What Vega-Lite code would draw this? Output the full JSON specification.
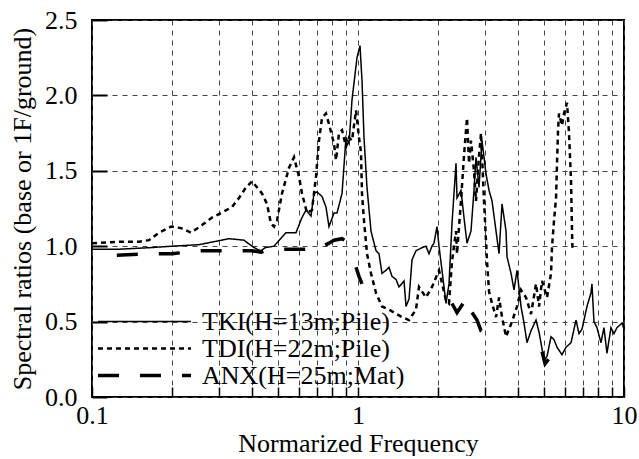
{
  "$schema": "https://vega.github.io/schema/vega-lite/v6.json",
  "width": 532,
  "height": 377,
  "padding": {"top": 7, "left": 9, "right": 14, "bottom": 0},
  "autosize": {"type": "pad"},
  "background": "white",
  "config": {
    "font": "Liberation Serif",
    "view": {"stroke": "black", "strokeWidth": 2},
    "axis": {
      "labelFont": "Liberation Serif",
      "titleFont": "Liberation Serif",
      "labelColor": "black",
      "titleColor": "black",
      "labelFontSize": 26,
      "titleFontSize": 26,
      "titleFontWeight": "normal",
      "domain": false,
      "tickColor": "black",
      "gridColor": "#444",
      "gridDash": [5, 5],
      "gridWidth": 1
    },
    "legend": {
      "labelFont": "Liberation Serif",
      "labelFontSize": 26,
      "labelColor": "black",
      "labelLimit": 400
    }
  },
  "datasets": {
    "curves": [
      {"s":"TKI","seg":"t","f":0.1,"v":0.98},{"s":"TKI","seg":"t","f":0.1263,"v":0.98},{"s":"TKI","seg":"t","f":0.1638,"v":0.99},{"s":"TKI","seg":"t","f":0.2,"v":1.0},{"s":"TKI","seg":"t","f":0.2525,"v":1.01},{"s":"TKI","seg":"t","f":0.2875,"v":1.03},{"s":"TKI","seg":"t","f":0.3273,"v":1.05},{"s":"TKI","seg":"t","f":0.3728,"v":1.04},{"s":"TKI","seg":"t","f":0.3996,"v":1.0},{"s":"TKI","seg":"t","f":0.4173,"v":0.98},{"s":"TKI","seg":"t","f":0.4319,"v":0.97},{"s":"TKI","seg":"t","f":0.4471,"v":0.99},{"s":"TKI","seg":"t","f":0.4833,"v":1.0},{"s":"TKI","seg":"t","f":0.5362,"v":1.09},{"s":"TKI","seg":"t","f":0.5847,"v":1.09},{"s":"TKI","seg":"t","f":0.6158,"v":1.19},{"s":"TKI","seg":"t","f":0.6376,"v":1.24},{"s":"TKI","seg":"t","f":0.6659,"v":1.2},{"s":"TKI","seg":"t","f":0.6832,"v":1.35},{"s":"TKI","seg":"t","f":0.7012,"v":1.36},{"s":"TKI","seg":"t","f":0.7322,"v":1.33},{"s":"TKI","seg":"t","f":0.7579,"v":1.26},{"s":"TKI","seg":"t","f":0.778,"v":1.13},{"s":"TKI","seg":"t","f":0.8124,"v":1.22},{"s":"TKI","seg":"t","f":0.8338,"v":1.22},{"s":"TKI","seg":"t","f":0.8709,"v":1.35},{"s":"TKI","seg":"t","f":0.9014,"v":1.72},{"s":"TKI","seg":"t","f":0.9252,"v":1.68},{"s":"TKI","seg":"t","f":0.9494,"v":1.97},{"s":"TKI","seg":"t","f":0.9913,"v":2.25},{"s":"TKI","seg":"t","f":1.0174,"v":2.33},{"s":"TKI","seg":"t","f":1.0352,"v":2.1},{"s":"TKI","seg":"t","f":1.0534,"v":1.72},{"s":"TKI","seg":"t","f":1.081,"v":1.39},{"s":"TKI","seg":"t","f":1.1191,"v":1.1},{"s":"TKI","seg":"t","f":1.1686,"v":0.97},{"s":"TKI","seg":"t","f":1.1993,"v":0.95},{"s":"TKI","seg":"t","f":1.2308,"v":0.82},{"s":"TKI","seg":"t","f":1.2743,"v":0.84},{"s":"TKI","seg":"t","f":1.3078,"v":0.86},{"s":"TKI","seg":"t","f":1.3422,"v":0.8},{"s":"TKI","seg":"t","f":1.3896,"v":0.78},{"s":"TKI","seg":"t","f":1.4261,"v":0.73},{"s":"TKI","seg":"t","f":1.4892,"v":0.77},{"s":"TKI","seg":"t","f":1.5155,"v":0.6},{"s":"TKI","seg":"t","f":1.5553,"v":0.65},{"s":"TKI","seg":"t","f":1.5963,"v":0.91},{"s":"TKI","seg":"t","f":1.652,"v":0.97},{"s":"TKI","seg":"t","f":1.7399,"v":0.99},{"s":"TKI","seg":"t","f":1.8011,"v":1.0},{"s":"TKI","seg":"t","f":1.8486,"v":0.95},{"s":"TKI","seg":"t","f":1.8973,"v":1.0},{"s":"TKI","seg":"t","f":1.9304,"v":1.02},{"s":"TKI","seg":"t","f":1.9815,"v":1.13},{"s":"TKI","seg":"t","f":2.0161,"v":1.0},{"s":"TKI","seg":"t","f":2.0693,"v":0.84},{"s":"TKI","seg":"t","f":2.142,"v":0.62},{"s":"TKI","seg":"t","f":2.1984,"v":0.75},{"s":"TKI","seg":"t","f":2.2563,"v":1.15},{"s":"TKI","seg":"t","f":2.3358,"v":1.55},{"s":"TKI","seg":"t","f":2.3561,"v":1.32},{"s":"TKI","seg":"t","f":2.4389,"v":1.37},{"s":"TKI","seg":"t","f":2.503,"v":1.19},{"s":"TKI","seg":"t","f":2.569,"v":1.02},{"s":"TKI","seg":"t","f":2.6593,"v":1.1},{"s":"TKI","seg":"t","f":2.7294,"v":1.37},{"s":"TKI","seg":"t","f":2.777,"v":1.59},{"s":"TKI","seg":"t","f":2.8503,"v":1.39},{"s":"TKI","seg":"t","f":2.9254,"v":1.7},{"s":"TKI","seg":"t","f":3.0286,"v":1.48},{"s":"TKI","seg":"t","f":3.1087,"v":1.37},{"s":"TKI","seg":"t","f":3.1907,"v":1.3},{"s":"TKI","seg":"t","f":3.3031,"v":1.1},{"s":"TKI","seg":"t","f":3.3901,"v":0.95},{"s":"TKI","seg":"t","f":3.4794,"v":1.28},{"s":"TKI","seg":"t","f":3.6017,"v":1.1},{"s":"TKI","seg":"t","f":3.633,"v":0.93},{"s":"TKI","seg":"t","f":3.7605,"v":0.82},{"s":"TKI","seg":"t","f":3.8595,"v":0.71},{"s":"TKI","seg":"t","f":3.9608,"v":0.84},{"s":"TKI","seg":"t","f":4.1007,"v":0.6},{"s":"TKI","seg":"t","f":4.2086,"v":0.49},{"s":"TKI","seg":"t","f":4.319,"v":0.36},{"s":"TKI","seg":"t","f":4.4716,"v":0.44},{"s":"TKI","seg":"t","f":4.6692,"v":0.51},{"s":"TKI","seg":"t","f":4.7925,"v":0.43},{"s":"TKI","seg":"t","f":4.9183,"v":0.32},{"s":"TKI","seg":"t","f":5.0042,"v":0.24},{"s":"TKI","seg":"t","f":5.1356,"v":0.27},{"s":"TKI","seg":"t","f":5.3169,"v":0.4},{"s":"TKI","seg":"t","f":5.4565,"v":0.38},{"s":"TKI","seg":"t","f":5.5998,"v":0.33},{"s":"TKI","seg":"t","f":5.8472,"v":0.28},{"s":"TKI","seg":"t","f":6.0533,"v":0.33},{"s":"TKI","seg":"t","f":6.321,"v":0.36},{"s":"TKI","seg":"t","f":6.6,"v":0.51},{"s":"TKI","seg":"t","f":6.7741,"v":0.42},{"s":"TKI","seg":"t","f":6.9525,"v":0.45},{"s":"TKI","seg":"t","f":7.2577,"v":0.6},{"s":"TKI","seg":"t","f":7.5128,"v":0.69},{"s":"TKI","seg":"t","f":7.5779,"v":0.75},{"s":"TKI","seg":"t","f":7.7103,"v":0.5},{"s":"TKI","seg":"t","f":7.9137,"v":0.46},{"s":"TKI","seg":"t","f":8.192,"v":0.36},{"s":"TKI","seg":"t","f":8.4078,"v":0.46},{"s":"TKI","seg":"t","f":8.6298,"v":0.29},{"s":"TKI","seg":"t","f":8.9331,"v":0.46},{"s":"TKI","seg":"t","f":9.1686,"v":0.42},{"s":"TKI","seg":"t","f":9.4102,"v":0.46},{"s":"TKI","seg":"t","f":9.8291,"v":0.49},{"s":"TKI","seg":"t","f":10,"v":0.45},

      {"s":"TDI","seg":"d","f":0.1,"v":1.02},{"s":"TDI","seg":"d","f":0.1263,"v":1.03},{"s":"TDI","seg":"d","f":0.1502,"v":1.03},{"s":"TDI","seg":"d","f":0.1638,"v":1.04},{"s":"TDI","seg":"d","f":0.1786,"v":1.09},{"s":"TDI","seg":"d","f":0.1982,"v":1.13},{"s":"TDI","seg":"d","f":0.2161,"v":1.12},{"s":"TDI","seg":"d","f":0.2356,"v":1.09},{"s":"TDI","seg":"d","f":0.2592,"v":1.14},{"s":"TDI","seg":"d","f":0.2826,"v":1.19},{"s":"TDI","seg":"d","f":0.3055,"v":1.22},{"s":"TDI","seg":"d","f":0.336,"v":1.26},{"s":"TDI","seg":"d","f":0.357,"v":1.32},{"s":"TDI","seg":"d","f":0.3793,"v":1.39},{"s":"TDI","seg":"d","f":0.3996,"v":1.43},{"s":"TDI","seg":"d","f":0.4356,"v":1.35},{"s":"TDI","seg":"d","f":0.4549,"v":1.28},{"s":"TDI","seg":"d","f":0.4709,"v":1.15},{"s":"TDI","seg":"d","f":0.4833,"v":1.13},{"s":"TDI","seg":"d","f":0.496,"v":1.17},{"s":"TDI","seg":"d","f":0.518,"v":1.35},{"s":"TDI","seg":"d","f":0.5504,"v":1.52},{"s":"TDI","seg":"d","f":0.5747,"v":1.59},{"s":"TDI","seg":"d","f":0.6002,"v":1.46},{"s":"TDI","seg":"d","f":0.6158,"v":1.35},{"s":"TDI","seg":"d","f":0.6431,"v":1.22},{"s":"TDI","seg":"d","f":0.6715,"v":1.24},{"s":"TDI","seg":"d","f":0.6951,"v":1.46},{"s":"TDI","seg":"d","f":0.7134,"v":1.7},{"s":"TDI","seg":"d","f":0.7322,"v":1.85},{"s":"TDI","seg":"d","f":0.7579,"v":1.88},{"s":"TDI","seg":"d","f":0.778,"v":1.81},{"s":"TDI","seg":"d","f":0.8124,"v":1.68},{"s":"TDI","seg":"d","f":0.8267,"v":1.57},{"s":"TDI","seg":"d","f":0.8483,"v":1.75},{"s":"TDI","seg":"d","f":0.8709,"v":1.77},{"s":"TDI","seg":"d","f":0.9014,"v":1.66},{"s":"TDI","seg":"d","f":0.9252,"v":1.72},{"s":"TDI","seg":"d","f":0.9494,"v":1.7},{"s":"TDI","seg":"d","f":0.9829,"v":1.9},{"s":"TDI","seg":"d","f":1.0087,"v":1.72},{"s":"TDI","seg":"d","f":1.0263,"v":1.62},{"s":"TDI","seg":"d","f":1.0352,"v":1.35},{"s":"TDI","seg":"d","f":1.0534,"v":1.17},{"s":"TDI","seg":"d","f":1.081,"v":0.95},{"s":"TDI","seg":"d","f":1.1191,"v":0.82},{"s":"TDI","seg":"d","f":1.1686,"v":0.69},{"s":"TDI","seg":"d","f":1.2308,"v":0.6},{"s":"TDI","seg":"d","f":1.3078,"v":0.58},{"s":"TDI","seg":"d","f":1.4636,"v":0.53},{"s":"TDI","seg":"d","f":1.5553,"v":0.51},{"s":"TDI","seg":"d","f":1.652,"v":0.58},{"s":"TDI","seg":"d","f":1.6955,"v":0.73},{"s":"TDI","seg":"d","f":1.8011,"v":0.66},{"s":"TDI","seg":"d","f":1.8973,"v":0.73},{"s":"TDI","seg":"d","f":2.0161,"v":0.84},{"s":"TDI","seg":"d","f":2.142,"v":0.64},{"s":"TDI","seg":"d","f":2.1984,"v":0.62},{"s":"TDI","seg":"d","f":2.2563,"v":0.9},{"s":"TDI","seg":"d","f":2.3358,"v":1.1},{"s":"TDI","seg":"d","f":2.3561,"v":0.95},{"s":"TDI","seg":"d","f":2.4389,"v":1.3},{"s":"TDI","seg":"d","f":2.503,"v":1.6},{"s":"TDI","seg":"d","f":2.569,"v":1.85},{"s":"TDI","seg":"d","f":2.6146,"v":1.55},{"s":"TDI","seg":"d","f":2.6593,"v":1.7},{"s":"TDI","seg":"d","f":2.7294,"v":1.5},{"s":"TDI","seg":"d","f":2.777,"v":1.3},{"s":"TDI","seg":"d","f":2.8503,"v":1.6},{"s":"TDI","seg":"d","f":2.9002,"v":1.75},{"s":"TDI","seg":"d","f":2.977,"v":1.3},{"s":"TDI","seg":"d","f":3.0549,"v":0.9},{"s":"TDI","seg":"d","f":3.1087,"v":0.7},{"s":"TDI","seg":"d","f":3.1907,"v":0.62},{"s":"TDI","seg":"d","f":3.3031,"v":0.53},{"s":"TDI","seg":"d","f":3.3901,"v":0.66},{"s":"TDI","seg":"d","f":3.4794,"v":0.53},{"s":"TDI","seg":"d","f":3.6017,"v":0.4},{"s":"TDI","seg":"d","f":3.7927,"v":0.5},{"s":"TDI","seg":"d","f":3.9608,"v":0.6},{"s":"TDI","seg":"d","f":4.1007,"v":0.71},{"s":"TDI","seg":"d","f":4.2819,"v":0.66},{"s":"TDI","seg":"d","f":4.4716,"v":0.55},{"s":"TDI","seg":"d","f":4.6692,"v":0.75},{"s":"TDI","seg":"d","f":4.7925,"v":0.6},{"s":"TDI","seg":"d","f":4.9183,"v":0.77},{"s":"TDI","seg":"d","f":5.1356,"v":0.66},{"s":"TDI","seg":"d","f":5.3169,"v":0.82},{"s":"TDI","seg":"d","f":5.362,"v":0.99},{"s":"TDI","seg":"d","f":5.4565,"v":1.17},{"s":"TDI","seg":"d","f":5.5522,"v":1.32},{"s":"TDI","seg":"d","f":5.5998,"v":1.55},{"s":"TDI","seg":"d","f":5.65,"v":1.77},{"s":"TDI","seg":"d","f":5.6976,"v":1.88},{"s":"TDI","seg":"d","f":5.8472,"v":1.8},{"s":"TDI","seg":"d","f":5.9493,"v":1.88},{"s":"TDI","seg":"d","f":6.1059,"v":1.95},{"s":"TDI","seg":"d","f":6.2125,"v":1.75},{"s":"TDI","seg":"d","f":6.321,"v":1.44},{"s":"TDI","seg":"d","f":6.3759,"v":1.1},{"s":"TDI","seg":"d","f":6.4,"v":0.99},

      {"s":"ANX","seg":"a1","f":0.124,"v":0.94},{"s":"ANX","seg":"a1","f":0.1638,"v":0.95},{"s":"ANX","seg":"a1","f":0.2,"v":0.95},{"s":"ANX","seg":"a1","f":0.2525,"v":0.97},{"s":"ANX","seg":"a1","f":0.3273,"v":0.97},{"s":"ANX","seg":"a1","f":0.3996,"v":0.97},{"s":"ANX","seg":"a1","f":0.4319,"v":0.96},{"s":"ANX","seg":"a1","f":0.4471,"v":0.97},{"s":"ANX","seg":"a1","f":0.5362,"v":0.98},{"s":"ANX","seg":"a1","f":0.6158,"v":0.98},{"s":"ANX","seg":"a1","f":0.7012,"v":0.98},{"s":"ANX","seg":"a1","f":0.778,"v":1.02},{"s":"ANX","seg":"a1","f":0.8124,"v":1.04},{"s":"ANX","seg":"a1","f":0.8709,"v":1.05},{"s":"ANX","seg":"a1","f":0.9252,"v":1.02},
      {"s":"ANX","seg":"a2","f":0.9829,"v":0.86},{"s":"ANX","seg":"a2","f":1.0087,"v":0.8},{"s":"ANX","seg":"a2","f":1.0352,"v":0.75},
      {"s":"ANX","seg":"a3","f":2.2563,"v":0.62},{"s":"ANX","seg":"a3","f":2.3561,"v":0.56},{"s":"ANX","seg":"a3","f":2.503,"v":0.63},
      {"s":"ANX","seg":"a4","f":2.6834,"v":0.56},{"s":"ANX","seg":"a4","f":2.8015,"v":0.51},{"s":"ANX","seg":"a4","f":2.9002,"v":0.44},{"s":"ANX","seg":"a4","f":2.977,"v":0.43},
      {"s":"ANX","seg":"a5","f":4.92,"v":0.3},{"s":"ANX","seg":"a5","f":5.05,"v":0.22},{"s":"ANX","seg":"a5","f":5.2,"v":0.25}
    ]
  },
  "data": {"name": "curves"},
  "mark": {"type": "line", "color": "black", "strokeCap": "butt", "clip": true},
  "encoding": {
    "x": {
      "field": "f",
      "type": "quantitative",
      "scale": {"type": "log", "domain": [0.1, 10]},
      "axis": {
        "title": "Normarized Frequency",
        "values": [0.1,0.2,0.3,0.4,0.5,0.6,0.7,0.8,0.9,1,2,3,4,5,6,7,8,9,10],
        "format": "~g",
        "labelExpr": "datum.value == 0.1 || datum.value == 1 || datum.value == 10 ? datum.label : ''",
        "tickSize": -10,
        "tickWidth": 1.5,
        "labelPadding": 15,
        "titlePadding": 2,
        "labelFlush": false
      }
    },
    "y": {
      "field": "v",
      "type": "quantitative",
      "scale": {"domain": [0, 2.5], "nice": false},
      "axis": {
        "title": "Spectral ratios (base or 1F/ground)",
        "values": [0, 0.5, 1, 1.5, 2, 2.5],
        "format": ".1f",
        "tickSize": -15,
        "tickWidth": 2,
        "labelPadding": 30,
        "titlePadding": 9
      }
    },
    "detail": {"field": "seg"},
    "strokeDash": {
      "field": "s",
      "type": "nominal",
      "scale": {"domain": ["TKI", "TDI", "ANX"], "range": [[1, 0], [5, 4], [21, 21]]},
      "legend": {
        "title": null,
        "orient": "none",
        "legendX": 4,
        "legendY": 288,
        "symbolType": "stroke",
        "symbolSize": 8649,
        "symbolStrokeWidth": 2.5,
        "symbolStrokeColor": "black",
        "clipHeight": 27,
        "rowPadding": 0,
        "labelOffset": 9,
        "labelExpr": "datum.value == 'TKI' ? 'TKI(H=13m;Pile)' : datum.value == 'TDI' ? 'TDI(H=22m;Pile)' : 'ANX(H=25m;Mat)'"
      }
    },
    "strokeWidth": {
      "field": "s",
      "type": "nominal",
      "scale": {"domain": ["TKI", "TDI", "ANX"], "range": [1.5, 3.5, 3]},
      "legend": null
    }
  }
}
